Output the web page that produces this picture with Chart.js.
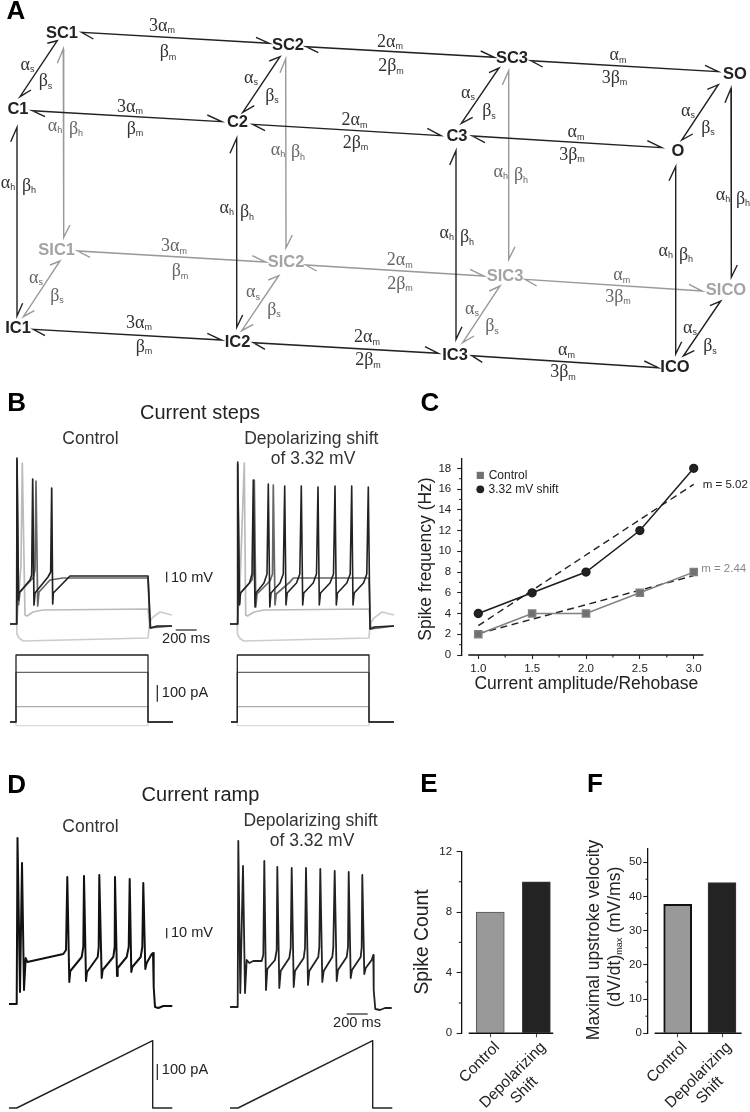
<!DOCTYPE html>
<html>
<head>
<meta charset="utf-8">
<title>Sodium channel model and firing</title>
<script src="https://cdn.jsdelivr.net/npm/chart.js@4/dist/chart.umd.min.js"></script>
<style>
  html, body { margin: 0; padding: 0; background: #fff; }
  #page { position: relative; width: 750px; height: 1112px; overflow: hidden; }
  canvas { position: absolute; }
</style>
</head>
<body>
<div id="page"></div>
<script>
// --- panel A: state diagram, each edge is barb, end, end, barb
const blackEdges = [
  [[93.3,39],[81.7,32.3],[269.3,43.3],[256,37.3]],
  [[318.3,52.7],[306,46.7],[494.3,57.3],[480.7,51]],
  [[542.7,67],[530.7,60.7],[718.3,71.7],[705,65.3]],
  [[45,116.7],[32.3,110.7],[221.7,121.7],[207.3,115]],
  [[265,130.7],[252.7,124.3],[441,135.7],[427.3,128.3]],
  [[485,142.7],[472.3,136],[661.7,147.7],[647.3,140.7]],
  [[47.3,43.3],[57.3,40.7],[20,96.7],[31,90]],
  [[269.3,61],[280,56.7],[242.7,112.3],[254.3,105.7]],
  [[489,72.7],[499,68],[461.3,123.3],[472.7,117.3]],
  [[707.3,89.3],[718.3,84.7],[681.7,140],[692.7,134]],
  [[10.7,141.7],[17,127.3],[17,316],[22.7,303.3]],
  [[230,153.3],[236.7,138.3],[236.7,327.3],[242.7,315]],
  [[449.7,165],[456,150.7],[456,339.3],[462,326.7]],
  [[669,180.7],[675.7,166.7],[675.7,354],[681.7,341.7]],
  [[725,102.7],[731,88.3],[731.3,277.3],[737.3,265]],
  [[710,305.7],[720.7,301],[683.3,356],[694.3,350.7]],
  [[45,335.7],[33.3,329.3],[221.7,340],[207.3,333.3]],
  [[265,349.3],[253.3,342.7],[438.3,353.3],[425,346.7]],
  [[482.3,362.3],[471.7,355.7],[658.3,367.7],[644.3,361]]
];
const grayEdges = [
  [[57.3,63.3],[63.3,49],[63.7,237.3],[70,225]],
  [[280,72.7],[285.7,59],[286,247.7],[292.3,235]],
  [[502.3,85],[508.7,70.7],[508.7,259.3],[515,246.7]],
  [[90,257.3],[77.7,251],[265.7,262],[252.3,255.7]],
  [[316.7,271],[305.7,265],[484,276],[470,269.3]],
  [[536.7,286],[525,279.3],[702.3,291],[689,284.3]],
  [[50,265],[60,261],[23.3,316.7],[34.3,310.7]],
  [[268.3,280],[278.7,275.7],[241.7,330.7],[253.3,324.3]],
  [[489.3,291],[500,286],[462.7,342.7],[474,336]]
];
const blackStates = [['SC1',62,33],['SC2',288,45],['SC3',512,58.3],['SO',735,74],['C1',18,109.3],['C2',237.5,122.7],['C3',457,136.7],['O',678,151.7],['IC1',18,328.3],['IC2',237.5,342.7],['IC3',455,355.7],['ICO',675,367.3]];
const grayStates = [['SIC1',56.7,250.7],['SIC2',286,262.7],['SIC3',505,276.7],['SICO',726,290.7]];
const darkRates = [
  ['3α_{m}',162,26],['β_{m}',168,52.7],['2α_{m}',390,42],['2β_{m}',391,66.7],['α_{m}',618,55.7],['3β_{m}',614.5,78.3],
  ['3α_{m}',130,107],['β_{m}',135,129],['2α_{m}',354.5,120.7],['2β_{m}',355.5,143.3],['α_{m}',576,132.7],['3β_{m}',572,155],
  ['α_{s}',27.5,65],['β_{s}',45.5,81.7],['α_{s}',251,78.3],['β_{s}',272,96],['α_{s}',468,93.3],['β_{s}',489,111.7],['α_{s}',688,111],['β_{s}',708,128.3],
  ['α_{h}',8,183],['β_{h}',29,186],['α_{h}',226.7,208],['β_{h}',247,212.7],['α_{h}',446.7,233],['β_{h}',467,237.7],['α_{h}',665.7,251],['β_{h}',686,255],['α_{h}',723,195],['β_{h}',743,199],
  ['3α_{m}',139,323.3],['β_{m}',144,347.3],['2α_{m}',367,337.7],['2β_{m}',368,360.7],['α_{m}',566.5,350.7],['3β_{m}',563,372.7],['α_{s}',690,328],['β_{s}',710,346.7]
];
const grayRates = [
  ['α_{h}',55,126],['β_{h}',76,129.3],['α_{h}',278,150],['β_{h}',298,152.7],['α_{h}',500.7,172.3],['β_{h}',521,175.7],
  ['3α_{m}',174,246.7],['β_{m}',180,271.7],['2α_{m}',399.7,260.7],['2β_{m}',400,284.3],['α_{m}',621.7,275.7],['3β_{m}',618,297.3],
  ['α_{s}',36,278.3],['β_{s}',57,296],['α_{s}',253,292.7],['β_{s}',274,310],['α_{s}',472,309],['β_{s}',492,326.7]
];
const panelLetters = [['A',16,11.5],['B',16.7,403.7],['C',430,404],['D',16.7,786],['E',429,785],['F',595,785]];
const headings = [['Current steps',200,413.3],['Current ramp',200.5,795]];
const subHeadings = [['Control',90.5,439],['Depolarizing shift',311.3,439],['of 3.32 mV',313,459],['Control',90.5,826.7],['Depolarizing shift',310.5,821],['of 3.32 mV',312,840.7]];
const scaleTexts = [['10 mV',192,577.7],['200 ms',186,639.3],['100 pA',185,693],['10 mV',192,933.3],['200 ms',357,1023.3],['100 pA',185,1070]];
const scaleBars = [
  [[166.7,571.7],[166.7,582.3]],[[175.7,630],[196.7,630]],[[157.3,685],[157.3,701.7]],
  [[166.7,928],[166.7,938.3]],[[346.7,1014],[367.7,1014]],[[157.3,1064],[157.3,1080]]
];

// --- panel B: voltage traces, [time, voltage from rest]
const stepCtrlTop = [[0,0],[67,0],[70,166],[85,24],[90,31],[200,44],[217,49],[227,145],[240,19],[250,31],[380,47],[407,52],[417,136],[427,20],[433,31],[600,48],[1380,48],[1405,-4],[1470,-2],[1620,-2]];
const stepCtrlMid = [[0,0],[67,0],[70,164],[85,19],[100,32],[230,46],[250,54],[260,143],[277,18],[290,32],[400,44],[530,46],[1380,46],[1400,-4],[1620,-2]];
const stepCtrlLow = [[67,0],[110,60],[123,161],[150,9],[170,8],[230,12],[330,14],[1380,15],[1400,-3],[1620,-2]];
const stepCtrlHyper = [[0,0],[67,0],[70,-10],[90,-14],[130,-17],[1380,-14],[1395,0],[1420,6],[1500,12],[1620,9]];
const stepShiftTop = [[0,0],[72,0],[77,162],[95,19],[105,31],[195,41],[220,50],[233,144],[250,17],[260,31],[340,41],[370,50],[383,140],[398,17],[410,31],[500,41],[533,50],[547,138],[560,19],[572,31],[665,41],[698,50],[713,138],[727,19],[738,31],[832,41],[865,50],[880,137],[893,19],[905,31],[1000,41],[1035,50],[1050,138],[1063,19],[1075,31],[1168,41],[1202,50],[1217,138],[1230,19],[1242,31],[1335,41],[1368,50],[1383,137],[1400,-5],[1450,-3],[1640,-2]];
const stepShiftMid = [[0,0],[72,0],[77,160],[95,20],[105,31],[220,44],[235,52],[243,144],[258,17],[270,30],[400,43],[425,50],[433,139],[450,19],[462,30],[600,42],[633,46],[1390,46],[1405,-5],[1640,-2]];
const stepShiftLow = [[72,0],[100,40],[143,161],[157,9],[175,8],[240,12],[340,14],[1390,15],[1405,-3],[1640,-2]];
const stepShiftHyper = [[0,0],[72,0],[75,-10],[95,-14],[135,-17],[1390,-14],[1400,0],[1440,6],[1520,12],[1640,9]];

// --- panel B: injected current steps, [time, pA]
const stepLevels = [402,298,92,-22];
const stepTimesCtrl = [0,60,1380,1630];
const stepTimesShift = [10,73,1390,1640];

// --- panel D: ramp responses, [time, voltage from rest]
const rampCtrl = [[0,0],[77,0],[85,166],[110,12],[130,141],[150,14],[167,46],[183,42],[543,50],[570,54],[583,127],[603,22],[613,33],[727,47],[743,57],[750,128],[770,23],[780,32],[887,47],[897,57],[903,129],[927,26],[937,34],[1043,47],[1057,57],[1060,127],[1080,28],[1087,36],[1177,47],[1197,57],[1207,125],[1223,32],[1233,37],[1317,47],[1333,57],[1343,121],[1363,35],[1377,41],[1427,50],[1440,51],[1447,17],[1460,-3],[1493,-4],[1543,-2],[1633,-2]];
const rampShift = [[10,0],[87,0],[93,166],[113,14],[140,141],[160,14],[177,47],[203,44],[243,46],[327,46],[343,52],[353,146],[370,17],[383,38],[460,47],[477,57],[483,140],[503,19],[517,36],[603,49],[617,59],[627,139],[647,20],[660,36],[747,49],[760,59],[770,139],[790,22],[803,36],[893,50],[903,60],[913,138],[933,25],[947,36],[1033,50],[1043,60],[1057,136],[1077,26],[1090,37],[1177,50],[1190,60],[1197,135],[1217,29],[1230,37],[1317,50],[1327,60],[1333,132],[1353,33],[1367,39],[1427,47],[1443,52],[1447,17],[1463,-2],[1510,-3],[1560,-1],[1627,-1]];
const rampCurrentCtrl = [[0,0],[77,0],[1437,404],[1437,0],[1633,0]];
const rampCurrentShift = [[10,0],[90,0],[1437,404],[1437,0],[1633,0]];

// --- panel C
const currentRatio = [1.0,1.5,2.0,2.5,3.0];
const controlFreq = [2,4,4,6,8];
const shiftFreq = [4,6,8,12,18];
const controlFitEnds = [2.05,7.65];
const shiftFitEnds = [2.83,16.46];
const fitRatio = [1.0,3.0];
const seriesNames = ['Control','3.32 mV shift'];
const slopeLabels = ['m = 5.02','m = 2.44'];
const ratioMinor = [1.25,1.75,2.25,2.75];
const freqMinor = [1,3,5,7,9,11,13,15,17];

// --- panels E and F
const barCategories = [['Control'],['Depolarizing','Shift       ']];
const spikeCount = [8,10];
const spikeMinor = [2,6,10];
const upstroke = [37.7,44];
const upstrokeMinor = [5,15,25,35,45];

const SANS = '"Liberation Sans", Arial, sans-serif';
const SERIF = '"Liberation Serif", "Times New Roman", serif';
Chart.defaults.font.family = SANS;
Chart.defaults.color = '#222';
Chart.defaults.animation = false;
Chart.defaults.layout.autoPadding = false;

const page = document.getElementById('page');
function addCanvas(left, top, w, h) {
  const c = document.createElement('canvas');
  c.width = w;
  c.height = h;
  c.style.left = left + 'px';
  c.style.top = top + 'px';
  c.style.width = w + 'px';
  c.style.height = h + 'px';
  page.appendChild(c);
  return c;
}
const toXY = pts => pts.map(p => ({ x: p[0], y: p[1] }));

// traces have no visible axes, the scales only map time and voltage to the panel
function traceChart(box, yMin, yMax, series) {
  return new Chart(addCanvas(box[0], box[1], box[2], box[3]), {
    type: 'scatter',
    data: {
      datasets: series.map(s => ({
        data: toXY(s[0]),
        showLine: true,
        borderColor: s[1],
        borderWidth: s[2],
        pointRadius: 0,
        borderJoinStyle: 'round'
      }))
    },
    options: {
      responsive: false,
      events: [],
      layout: { padding: 0, autoPadding: false },
      plugins: { legend: { display: false }, tooltip: { enabled: false } },
      scales: {
        x: { type: 'linear', display: false, min: 0, max: box[2] * 10 },
        y: { type: 'linear', display: false, min: yMin, max: yMax }
      }
    }
  });
}

const stepSeries = (times, level) => [[times[0],0],[times[1],0],[times[1],level],[times[2],level],[times[2],0],[times[3],0]];
const stepColors = ['#222','#666','#aaa','#d8d8d8'];

traceChart([10,450,170,200], -26, 174, [[stepCtrlTop,'#222',1.7],[stepCtrlMid,'#666',1.7],[stepCtrlLow,'#bbb',1.7],[stepCtrlHyper,'#ccc',1.7]]);
traceChart([230,450,170,200], -26, 174, [[stepShiftTop,'#222',1.6],[stepShiftMid,'#666',1.7],[stepShiftLow,'#bbb',1.7],[stepShiftHyper,'#ccc',1.7]]);
traceChart([10,650,170,80], -48, 432, stepLevels.map((l,i) => [stepSeries(stepTimesCtrl,l), stepColors[i], 1.3]));
traceChart([230,650,170,80], -48, 432, stepLevels.map((l,i) => [stepSeries(stepTimesShift,l), stepColors[i], 1.3]));
traceChart([9,830,170,190], -16, 174, [[rampCtrl,'#111',2]]);
traceChart([229,830,170,190], -13, 177, [[rampShift,'#222',1.8]]);
traceChart([9,1035,170,77], -24, 438, [[rampCurrentCtrl,'#222',1.4]]);
traceChart([229,1035,170,77], -24, 438, [[rampCurrentShift,'#222',1.4]]);

// small ticks and the x axis line that starts clear of the y axis
const axisExtras = {
  id: 'axisExtras',
  afterDraw(chart, args, opts) {
    const { ctx, scales } = chart;
    ctx.save();
    ctx.strokeStyle = '#222';
    ctx.lineWidth = 1.1;
    (opts.yMinor || []).forEach(v => {
      const y = scales.y.getPixelForValue(v);
      ctx.beginPath();
      ctx.moveTo(chart.chartArea.left - 2.5, y);
      ctx.lineTo(chart.chartArea.left, y);
      ctx.stroke();
    });
    const y0 = scales.y.getPixelForValue(0);
    (opts.xMinor || []).forEach(v => {
      const x = scales.x.getPixelForValue(v);
      ctx.beginPath();
      ctx.moveTo(x, y0);
      ctx.lineTo(x, y0 + 2.5);
      ctx.stroke();
    });
    ctx.lineWidth = 1.4;
    ctx.strokeStyle = '#111';
    ctx.beginPath();
    ctx.moveTo(scales.x.getPixelForValue(opts.xLine[0]), y0);
    ctx.lineTo(scales.x.getPixelForValue(opts.xLine[1]), y0);
    ctx.stroke();
    ctx.restore();
  }
};

// panel C
new Chart(addCanvas(410,440,340,260), {
  type: 'line',
  plugins: [axisExtras],
  data: {
    datasets: [
      { data: toXY(currentRatio.map((r,i) => [r, shiftFreq[i]])), borderColor: '#1d1d1d', backgroundColor: '#222', borderWidth: 1.5, pointStyle: 'circle', pointRadius: 3.9, tension: 0 },
      { data: toXY(currentRatio.map((r,i) => [r, controlFreq[i]])), borderColor: '#808080', backgroundColor: '#707070', borderWidth: 1.4, pointStyle: 'rect', pointRadius: 5.1, tension: 0 },
      { data: toXY(fitRatio.map((r,i) => [r, shiftFitEnds[i]])), borderColor: '#222', borderWidth: 1.4, borderDash: [7,4.5], pointRadius: 0 },
      { data: toXY(fitRatio.map((r,i) => [r, controlFitEnds[i]])), borderColor: '#222', borderWidth: 1.4, borderDash: [7,4.5], pointRadius: 0 }
    ]
  },
  options: {
    responsive: false,
    events: [],
    layout: { padding: { top: 19, right: 46.7, left: 0, bottom: 0 }, autoPadding: false },
    plugins: {
      legend: { display: false },
      tooltip: { enabled: false },
      axisExtras: { yMinor: freqMinor, xMinor: ratioMinor, xLine: [0.907,3.09] }
    },
    scales: {
      x: {
        type: 'linear',
        min: 0.846,
        max: 3.089,
        afterFit: s => { s.height = 45; },
        afterBuildTicks: s => { s.ticks = currentRatio.map(v => ({ value: v })); },
        border: { display: false },
        grid: { drawOnChartArea: false, tickLength: 4, tickColor: '#222', tickWidth: 1.1 },
        ticks: { autoSkip: false, maxRotation: 0, font: { size: 11.5 }, color: '#222', padding: 3, callback: v => v.toFixed(1) }
      },
      y: {
        type: 'linear',
        min: 0,
        max: 18.9,
        afterFit: s => { s.width = 51.7; },
        border: { color: '#111', width: 1.3 },
        grid: { drawOnChartArea: false, tickLength: 4.5, tickColor: '#222', tickWidth: 1.1 },
        ticks: { stepSize: 2, includeBounds: false, font: { size: 11.5 }, color: '#222', padding: 6 }
      }
    }
  }
});

// panels E and F share a layout, the x scale is linear so bars can sit off the y axis
function barPanel(box, plotLeft, plotRight, yMax, yStep, xMin, xMax, values, minor, controlBorder, opts) {
  const area = { top: opts.plotTop - box[1], bottom: opts.plotBottom - box[1] };
  new Chart(addCanvas(box[0], box[1], box[2], box[3]), {
    type: 'bar',
    plugins: [axisExtras],
    data: {
      datasets: [{
        data: values.map((v,i) => ({ x: i + 1, y: v })),
        backgroundColor: ['#999999','#232323'],
        borderColor: [controlBorder,'#3a3a3a'],
        borderWidth: [opts.controlBorderWidth, 1],
        barThickness: 28
      }]
    },
    options: {
      responsive: false,
      events: [],
      layout: { padding: { top: area.top, right: box[0] + box[2] - plotRight, left: 0, bottom: 0 }, autoPadding: false },
      plugins: {
        legend: { display: false },
        tooltip: { enabled: false },
        axisExtras: { yMinor: minor, xLine: opts.xLine }
      },
      scales: {
        x: {
          type: 'linear',
          offset: false,
          min: xMin,
          max: xMax,
          afterFit: s => { s.height = box[3] - area.bottom; },
          afterBuildTicks: s => { s.ticks = values.map((v,i) => ({ value: i + 1 })); },
          border: { display: false },
          grid: { offset: false, drawOnChartArea: false, tickLength: 4, tickColor: '#444', tickWidth: 1.1 },
          ticks: { autoSkip: false, minRotation: 45, maxRotation: 45, font: { size: 15.5 }, color: '#222', padding: 1, labelOffset: 7, callback: v => barCategories[v - 1] }
        },
        y: {
          type: 'linear',
          min: 0,
          max: yMax,
          afterFit: s => { s.width = plotLeft - box[0]; },
          border: { color: '#111', width: 1.3 },
          grid: { drawOnChartArea: false, tickLength: 4.7, tickColor: '#222', tickWidth: 1.1 },
          ticks: { stepSize: yStep, includeBounds: false, font: { size: 11.5 }, color: '#222', padding: opts.tickPad }
        }
      }
    }
  });
}
barPanel([425,840,140,272], 461.3, 557.7, 12, 4, 0.371, 2.366, spikeCount, spikeMinor, '#555', { plotTop: 851, plotBottom: 1033.3, xLine: [0.531,2.366], controlBorderWidth: 1, tickPad: 4.5 });
barPanel([622,840,128,272], 648, 746.7, 54, 10, 0.33, 2.443, upstroke, upstrokeMinor, '#111', { plotTop: 846, plotBottom: 1033.3, xLine: [0.48,2.443], controlBorderWidth: 2, tickPad: 1.5 });

// full page layer for the diagram, scale bars and free text
function drawRich(ctx, text, x, y, st) {
  const runs = text.split(/_\{(.*?)\}/);
  const mainFont = (st.weight ? st.weight + ' ' : '') + st.size + 'px ' + (st.family || SANS);
  const subFont = (st.subSize || 9) + 'px ' + SANS;
  let w = 0;
  runs.forEach((r,i) => {
    ctx.font = i % 2 ? subFont : mainFont;
    w += ctx.measureText(r).width;
  });
  ctx.save();
  ctx.translate(x, y);
  if (st.rotate) ctx.rotate(st.rotate * Math.PI / 180);
  ctx.fillStyle = st.color || '#222';
  ctx.textBaseline = 'middle';
  ctx.textAlign = 'left';
  let cx = -w / 2;
  runs.forEach((r,i) => {
    ctx.font = i % 2 ? subFont : mainFont;
    ctx.fillText(r, cx, i % 2 ? 4.5 : 0);
    cx += ctx.measureText(r).width;
  });
  ctx.restore();
}

const textGroups = [
  [panelLetters, { size: 26, weight: 'bold', color: '#000' }],
  [blackStates, { size: 16.5, weight: 'bold', color: '#222' }],
  [grayStates, { size: 16.5, weight: 'bold', color: '#a3a3a3' }],
  [darkRates, { size: 18, family: SERIF, color: '#333' }],
  [grayRates, { size: 18, family: SERIF, color: '#666' }],
  [headings, { size: 20, color: '#222' }],
  [subHeadings, { size: 17.5, color: '#333' }],
  [scaleTexts, { size: 14.6, color: '#222' }],
  [[['Current amplitude/Rehobase',586.3,684]], { size: 17.5, color: '#222' }],
  [[['Spike frequency (Hz)',426,559]], { size: 17.5, rotate: -90, color: '#222' }],
  [[['Spike Count',422.7,942]], { size: 19.3, rotate: -90, color: '#222' }],
  [[['Maximal upstroke velocity',594,940],['(dV/dt)_{max} (mV/ms)',615,937]], { size: 17.5, rotate: -90, color: '#222' }],
  [[[seriesNames[0],508,475.7],[seriesNames[1],523.5,489.3]], { size: 12, color: '#222' }],
  [[[slopeLabels[0],725.3,485]], { size: 11.5, color: '#222' }],
  [[[slopeLabels[1],723.7,569]], { size: 11.5, color: '#888' }]
];

const textLayer = {
  id: 'textLayer',
  afterDatasetsDraw(chart) {
    const { ctx, scales } = chart;
    textGroups.forEach(group => {
      group[0].forEach(t => {
        drawRich(ctx, t[0], scales.x.getPixelForValue(t[1]), scales.y.getPixelForValue(t[2]), group[1]);
      });
    });
  }
};

const edgeSet = (edges, color, width) => edges.map(e => ({
  data: toXY(e), showLine: true, borderColor: color, borderWidth: width, pointRadius: 0
}));

new Chart(addCanvas(0,0,750,1112), {
  type: 'scatter',
  plugins: [textLayer],
  data: {
    datasets: [
      ...edgeSet(blackEdges, '#222', 1.4),
      ...edgeSet(grayEdges, '#999', 1.4),
      ...edgeSet(scaleBars, '#222', 1.2),
      { data: [{ x: 480.3, y: 475.4 }], pointStyle: 'rect', pointRadius: 5.1, backgroundColor: '#707070', borderWidth: 0 },
      { data: [{ x: 480.3, y: 489.3 }], pointStyle: 'circle', pointRadius: 3.9, backgroundColor: '#222', borderWidth: 0 }
    ]
  },
  options: {
    responsive: false,
    events: [],
    layout: { padding: 0, autoPadding: false },
    plugins: { legend: { display: false }, tooltip: { enabled: false } },
    scales: {
      x: { type: 'linear', display: false, min: 0, max: 750 },
      y: { type: 'linear', display: false, min: 0, max: 1112, reverse: true }
    }
  }
});
</script>
</body>
</html>
